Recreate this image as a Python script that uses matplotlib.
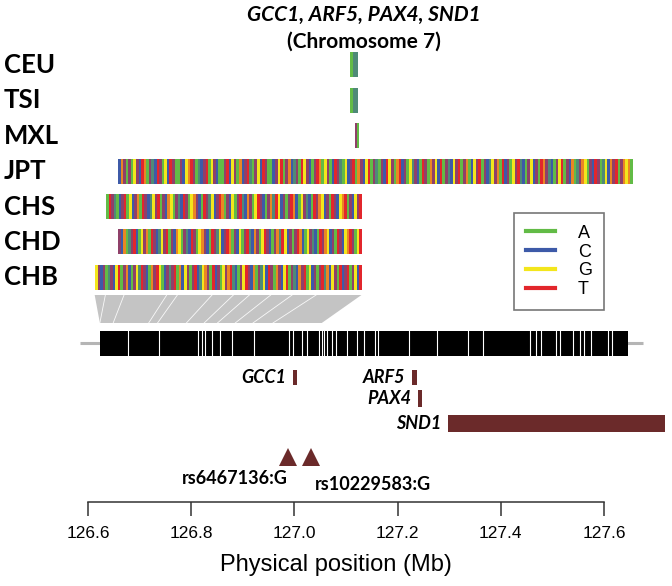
import matplotlib.pyplot as plt
import numpy as np
from matplotlib.colors import to_rgb
from matplotlib.lines import Line2D
from matplotlib.patches import Polygon

# haplotype columns per population (IUPAC codes, two-base codes are mixed columns)
populations = ["CEU", "TSI", "MXL", "JPT", "CHS", "CHD", "CHB"]
hap_start = [127.108, 127.108, 127.117, 126.659, 126.634, 126.659, 126.613]
hap_end = [127.123, 127.123, 127.123, 127.656, 127.130, 127.130, 127.130]
hap_seq = [
    "AMM",
    "AMM",
    "YA",
    "CKYAYAGYCTKAYMCTYAGC" "TYAAYCGKTYAMCYTAGYCA" "AYTCGYAKCYTMAYGCTYAA"
    "CYGTAYKCMYATGYCAYTKA" "GYACTYMAGCYTAKYCGTAY" "MAYCTGYAKTCYAGMYCATY"
    "AKYGCTAYMCGYTAYKACGY" "TAYCMGYKATCYAGYTMCAY" "GCYATKYMCAYGTAYCKAMY"
    "KGAYCTYAMGCKYTAYKGKA",
    "ATYMACYTAGCYKATYCMGY" "TAYCKGAYMCTYAGKYCATY" "MGCYTKAYCGAYTMCKYAGT"
    "YCAYKMTGCYAYTKCAGYMC" "ATYKGCYATYCGKTAYCGYT",
    "YCKAMYTCAGYKATYCMGYT" "AYCKGAYMCTYAGKYCATYM" "GCYTKAYCGAYTMCKYAGTY"
    "CAYKMTGCYAYTKCAGYMCA" "TYKGCYATYCGKTYAGT",
    "GYCYAMYCGTAYKCAYGMTY" "CAKYTGACYMYTAKCGYAYT" "CMGKYATCYAGYKTMCAYGT"
    "YCKAYMGCTYAKYCGTAYMC" "KYTAGCYAYTMKCGYATCYT" "AYGCT",
]

bases = ["A", "C", "G", "T"]
base_colors = ["#62bb46", "#3d5aa8", "#f3e61c", "#e2262c"]
mixed_codes = {"R": "AG", "Y": "CT", "S": "CG", "W": "AT", "K": "GT", "M": "AC"}

# genomic region track (white gaps inside the black bar)
region_start, region_end = 126.623, 127.646
backbone = [126.584, 127.676]
region_gaps = [126.677, 126.738, 126.813, 126.820, 126.827, 126.840, 126.855,
               126.880, 126.922, 126.989, 126.997, 127.014, 127.024, 127.047,
               127.054, 127.057, 127.064, 127.072, 127.081, 127.102, 127.122,
               127.135, 127.156, 127.163, 127.223, 127.277, 127.336, 127.365,
               127.457, 127.469, 127.478, 127.507, 127.515, 127.540, 127.553,
               127.561, 127.574, 127.607, 127.616]

genes = ["GCC1", "ARF5", "PAX4", "SND1"]
gene_start = [126.997, 127.228, 127.240, 127.298]
gene_end = [127.005, 127.238, 127.247, 127.718]
gene_row = [0, 0, 1, 2]

snp_ids = ["rs6467136:G", "rs10229583:G"]
snp_pos = [126.988, 127.032]

ticks = [126.6, 126.8, 127.0, 127.2, 127.4, 127.6]

W, H = 672, 586
XL, XR = 126.4295, 127.7318
dark_red = "#6b2a2a"


def code_rgb(code):
    lookup = dict(zip(bases, base_colors))
    if code in lookup:
        return to_rgb(lookup[code])
    a, b = mixed_codes[code]
    return tuple((np.array(to_rgb(lookup[a])) + np.array(to_rgb(lookup[b]))) / 2)


fig = plt.figure(figsize=(W / 100, H / 100), dpi=100)
ax = fig.add_axes([0, 0, 1, 1])
ax.axis("off")

# haplotype rows
row_top, row_step, half_h = 65, 35.4, 12.5
for i, (name, x0, x1, seq) in enumerate(zip(populations, hap_start, hap_end, hap_seq)):
    yc = row_top + i * row_step
    img = np.array([[code_rgb(c) for c in seq]])
    ax.imshow(img, extent=(x0, x1, yc + half_h, yc - half_h), aspect="auto",
              interpolation="nearest")
    ax.text(0.006, yc, name, transform=ax.get_yaxis_transform(), ha="left",
            va="center", fontsize=18.5, fontweight="bold", family="Lato")

# LD-like link area between CHB columns and the region bar
chb_x0, chb_x1 = hap_start[-1], hap_end[-1]
ld_top, ld_bot = 295, 323
ld_bottom_end = 127.053
ax.add_patch(Polygon([(chb_x0, ld_top), (chb_x1, ld_top),
                      (ld_bottom_end, ld_bot), (region_start, ld_bot)],
                     closed=True, facecolor="#c4c4c4", edgecolor="none"))
streaks = [0.04, 0.11, 0.27, 0.31, 0.44, 0.52, 0.58, 0.66, 0.74, 0.83]
for f in streaks:
    top_x = chb_x0 + f * (chb_x1 - chb_x0)
    bot_x = region_start + (f - 0.05) * (ld_bottom_end - region_start)
    ax.plot([top_x, max(bot_x, region_start)], [ld_top, ld_bot], color="white",
            lw=0.6, alpha=0.9)

# region track
ax.plot(backbone, [343, 343], color="#b5b5b5", lw=2.2, solid_capstyle="butt",
        zorder=1)
ax.fill_between([region_start, region_end], 331, 356, color="black", lw=0,
                zorder=2)
for g in region_gaps:
    ax.plot([g, g], [331, 356], color="white", lw=0.8, zorder=3)

# genes
gene_y = [377.5, 398.5, 423.5]
gene_h = [15, 17, 17]
for name, g0, g1, r in zip(genes, gene_start, gene_end, gene_row):
    yc = gene_y[r]
    ax.fill_between([g0, g1], yc - gene_h[r] / 2, yc + gene_h[r] / 2,
                    color=dark_red, lw=0)
    ax.annotate(name, (g0, yc), xytext=(-5, 0), textcoords="offset points",
                ha="right", va="center", fontsize=13, fontweight="bold",
                fontstyle="italic", family="Lato")

# SNPs
ax.plot(snp_pos, [457] * len(snp_pos), linestyle="", marker="^",
        markersize=13, color=dark_red, markeredgewidth=0)
ax.annotate(snp_ids[0], (snp_pos[0], 479), xytext=(0, 0),
            textcoords="offset points", ha="right", va="center",
            fontsize=13, fontweight="bold", family="Lato")
ax.annotate(snp_ids[1], (snp_pos[1], 485), xytext=(3, 0),
            textcoords="offset points", ha="left", va="center",
            fontsize=13, fontweight="bold", family="Lato")

ax.set_xlim(XL, XR)
ax.set_ylim(H, 0)

# title
fig.text(364 / W, 1 - 15 / H, "GCC1, ARF5, PAX4, SND1", ha="center",
         va="center", fontsize=15, fontweight="bold", fontstyle="italic",
         family="Lato")
fig.text(364 / W, 1 - 42 / H, "(Chromosome 7)", ha="center", va="center",
         fontsize=15, fontweight="bold", family="Lato")

# legend
handles = [Line2D([0], [0], color=c, lw=3, label=b)
           for b, c in zip(bases, base_colors)]
leg = ax.legend(handles=handles, loc="upper left",
                bbox_to_anchor=(514 / W, 1 - 213 / H), bbox_transform=fig.transFigure,
                borderaxespad=0, fancybox=False, frameon=True,
                handlelength=1.6, handletextpad=1.3, labelspacing=0.1,
                borderpad=0.65, prop={"family": "Liberation Sans", "size": 13})
leg.get_frame().set_edgecolor("#555555")
leg.get_frame().set_linewidth(1.2)

# position scale
sax = fig.add_axes([0, 1 - 502 / H, 1, 0.0005])
sax.set_xlim(XL, XR)
sax.patch.set_visible(False)
for side in ["top", "left", "right"]:
    sax.spines[side].set_visible(False)
sax.spines["bottom"].set_bounds(ticks[0], ticks[-1])
sax.spines["bottom"].set_color("#333333")
sax.spines["bottom"].set_linewidth(1.1)
sax.set_yticks([])
sax.set_xticks(ticks)
sax.set_xticklabels([f"{t:.1f}" for t in ticks], family="Liberation Sans")
sax.tick_params(axis="x", direction="out", length=10, width=1.1,
                color="#333333", labelsize=12.5, pad=7)
sax.set_xlabel("Physical position (Mb)", family="Liberation Sans",
               fontsize=17, labelpad=10)

fig.savefig("out.png", dpi=100)
